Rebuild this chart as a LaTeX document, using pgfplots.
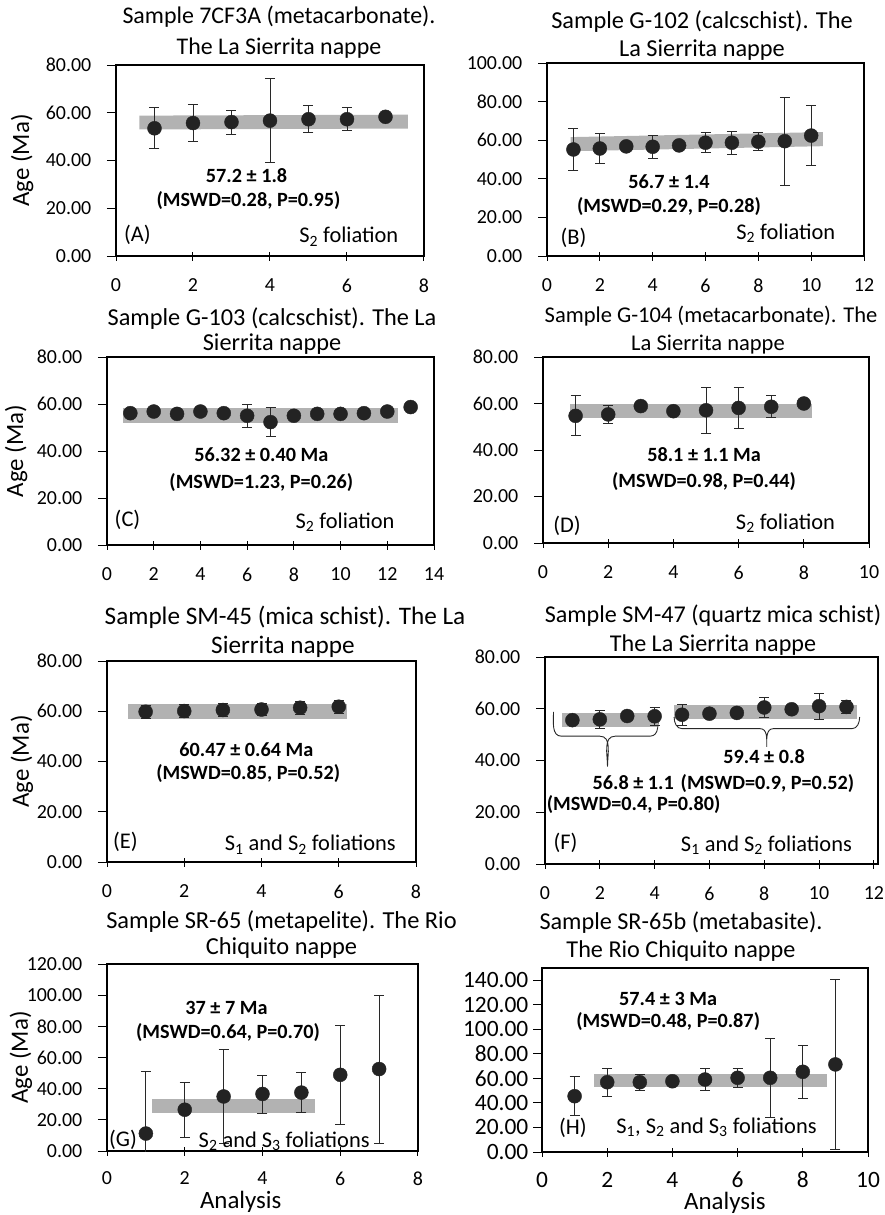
\documentclass[border=0pt]{standalone}
\usepackage{fontspec}
\setmainfont{Carlito}
\usepackage{pgfplots}
\pgfplotsset{compat=1.18}

\definecolor{markc}{RGB}{35,35,35}
\definecolor{bandc}{RGB}{178,178,178}
\definecolor{barc}{RGB}{40,40,40}

\newcommand{\tf}[1]{\fontsize{#1}{30}\selectfont}
\newcommand{\afont}{\fontsize{20.3}{24}\selectfont\bfseries}
\newcommand{\lfont}{\fontsize{22.5}{26}\selectfont}

\pgfplotsset{
  panel/.style={
    scale only axis,
    axis line style={line width=1.3bp, black},
    tick style={line width=1bp, black},
    tick align=center,
    tick pos=left,
    major tick length=9bp,
    ytick style={xshift=-4.5bp},
    tick label style={font=\fontsize{20}{24}\selectfont},
    /pgf/number format/assume math mode=true,
    yticklabel style={/pgf/number format/fixed, /pgf/number format/fixed zerofill, /pgf/number format/precision=2, anchor=east, inner sep=0pt, xshift=-20bp},
    xticklabel style={anchor=center, inner sep=0pt, yshift=-25bp},
    ymin=0, xmin=0,
    label style={font=\fontsize{25}{28}\selectfont},
  },
  pts/.style={only marks, mark=*, mark size=7bp, mark options={fill=markc, draw=markc},
    error bars/.cd, y dir=both, y explicit,
    error bar style={line width=0.9bp, barc},
    error mark options={rotate=90, mark size=5bp, line width=0.9bp, barc}},
  band/.style={fill=bandc, draw=none, mark=none},
}

\begin{document}
\begin{tikzpicture}
\useasboundingbox (0bp,0bp) rectangle (885bp,-1215bp);

% titles
\node[anchor=base, font=\tf{24}] at (279bp,-23.5bp) {Sample 7CF3A (metacarbonate).};
\node[anchor=base, font=\tf{24}] at (279bp,-54.3bp) {The La Sierrita nappe};
\node[anchor=base, font=\tf{24.4}] at (702bp,-28.5bp) {Sample G-102 (calcschist). The};
\node[anchor=base, font=\tf{24.4}] at (702bp,-56.7bp) {La Sierrita nappe};
\node[anchor=base, font=\tf{24.4}] at (272bp,-325bp) {Sample G-103 (calcschist). The La};
\node[anchor=base, font=\tf{24.4}] at (272bp,-350.7bp) {Sierrita nappe};
\node[anchor=base, font=\tf{22.6}] at (711bp,-322.7bp) {Sample G-104 (metacarbonate). The};
\node[anchor=base, font=\tf{22.6}] at (708bp,-350bp) {La Sierrita nappe};
\node[anchor=base, font=\tf{25.3}] at (285bp,-624.3bp) {Sample SM-45 (mica schist). The La};
\node[anchor=base, font=\tf{25.3}] at (283bp,-653.3bp) {Sierrita nappe};
\node[anchor=base, font=\tf{24.2}] at (713bp,-622.7bp) {Sample SM-47 (quartz mica schist)};
\node[anchor=base, font=\tf{24.2}] at (713bp,-651bp) {The La Sierrita nappe};
\node[anchor=base, font=\tf{24.5}] at (281.5bp,-928.3bp) {Sample SR-65 (metapelite). The Rio};
\node[anchor=base, font=\tf{24.5}] at (281.5bp,-954bp) {Chiquito nappe};
\node[anchor=base, font=\tf{24.3}] at (681bp,-929.3bp) {Sample SR-65b (metabasite).};
\node[anchor=base, font=\tf{24.3}] at (681bp,-957.3bp) {The Rio Chiquito nappe};

% (A)
\begin{axis}[panel, at={(116bp,-256bp)}, anchor=south west, width=308bp, height=191bp,
  xmax=8, ymax=80, xtick={0,2,...,8}, ytick={0,20,...,80},
  ylabel={Age (Ma)}, ylabel style={at={(axis description cs:-0.305,0.5)}, anchor=center}]
\addplot[band] coordinates {(0.61,53.0) (7.58,53.4) (7.58,59.2) (0.61,58.8)} --cycle;
\addplot[pts] table[x=x,y=y,y error=e] {
x y e
1 53.5 8.6
2 55.7 7.6
3 56.1 5.0
4 56.7 17.6
5 57.3 5.7
6 57.3 4.9
7 58.3 1.5
};
\node[font=\afont] at (axis description cs:0.424,0.419) {57.2 ± 1.8};
\node[font=\afont] at (axis description cs:0.430,0.293) {(MSWD=0.28, P=0.95)};
\node[font=\lfont, anchor=west, inner sep=0pt] at (axis description cs:0.026,0.110) {(A)};
\node[font=\lfont, anchor=east, inner sep=0pt] at (axis description cs:0.917,0.101) {S\textsubscript{2} foliation};
\end{axis}

% (B)
\begin{axis}[panel, at={(547bp,-256bp)}, anchor=south west, width=317bp, height=193bp,
  xmax=12, ymax=100, xtick={0,2,...,12}, ytick={0,20,...,100}]
\addplot[band] coordinates {(0.89,54.3) (10.44,56.9) (10.44,64.2) (0.89,61.6)} --cycle;
\addplot[pts] table[x=x,y=y,y error=e] {
x y e
1 55.2 10.8
2 55.7 7.6
3 56.8 2.0
4 56.6 6.1
5 57.3 2.0
6 58.7 5.2
7 58.7 5.9
8 59.2 4.6
9 59.5 22.7
10 62.4 15.4
};
\node[font=\afont] at (axis description cs:0.385,0.387) {56.7 ± 1.4};
\node[font=\afont] at (axis description cs:0.385,0.257) {(MSWD=0.29, P=0.28)};
\node[font=\lfont, anchor=west, inner sep=0pt] at (axis description cs:0.042,0.092) {(B)};
\node[font=\lfont, anchor=east, inner sep=0pt] at (axis description cs:0.910,0.118) {S\textsubscript{2} foliation};
\end{axis}

% (C)
\begin{axis}[panel, at={(107bp,-545bp)}, anchor=south west, width=327bp, height=188bp,
  xmax=14, ymax=80, xtick={0,2,...,14}, ytick={0,20,...,80},
  ylabel={Age (Ma)}, ylabel style={at={(axis description cs:-0.278,0.5)}, anchor=center}]
\addplot[band] coordinates {(0.67,51.8) (12.46,51.8) (12.46,58.2) (0.67,58.2)} --cycle;
\addplot[pts] table[x=x,y=y,y error=e] {
x y e
1 56.1 1.5
2 56.8 1.5
3 55.8 1.5
4 56.8 1.5
5 56.1 1.5
6 55.0 4.8
7 52.3 6.3
8 55.0 1.5
9 55.8 1.5
10 55.8 1.5
11 56.1 1.5
12 56.8 1.5
13 58.7 1.5
};
\node[font=\afont] at (axis description cs:0.472,0.478) {56.32 ± 0.40 Ma};
\node[font=\afont] at (axis description cs:0.472,0.331) {(MSWD=1.23, P=0.26)};
\node[font=\lfont, anchor=west, inner sep=0pt] at (axis description cs:0.023,0.133) {(C)};
\node[font=\lfont, anchor=east, inner sep=0pt] at (axis description cs:0.880,0.119) {S\textsubscript{2} foliation};
\end{axis}

% (D)
\begin{axis}[panel, at={(543bp,-543bp)}, anchor=south west, width=326bp, height=186bp,
  xmax=10, ymax=80, xtick={0,2,...,10}, ytick={0,20,...,80}]
\addplot[band] coordinates {(0.84,53.6) (8.26,53.6) (8.26,59.7) (0.84,59.7)} --cycle;
\addplot[pts] table[x=x,y=y,y error=e] {
x y e
1 54.7 8.6
2 55.3 3.9
3 58.9 1.5
4 56.7 1.5
5 57.1 10.0
6 58.1 9.0
7 58.6 4.7
8 60.0 1.5
};
\node[font=\afont] at (axis description cs:0.494,0.473) {58.1 ± 1.1 Ma};
\node[font=\afont] at (axis description cs:0.494,0.330) {(MSWD=0.98, P=0.44)};
\node[font=\lfont, anchor=west, inner sep=0pt] at (axis description cs:0.031,0.093) {(D)};
\node[font=\lfont, anchor=east, inner sep=0pt] at (axis description cs:0.896,0.104) {S\textsubscript{2} foliation};
\end{axis}

% (E)
\begin{axis}[panel, at={(107bp,-862bp)}, anchor=south west, width=309bp, height=201bp,
  xmax=8, ymax=80, xtick={0,2,...,8}, ytick={0,20,...,80},
  ylabel={Age (Ma)}, ylabel style={at={(axis description cs:-0.275,0.5)}, anchor=center}]
\addplot[band] coordinates {(0.55,57.1) (6.22,57.1) (6.22,63.0) (0.55,63.0)} --cycle;
\addplot[pts] table[x=x,y=y,y error=e] {
x y e
1 59.8 2.5
2 60.1 2.5
3 60.5 2.5
4 60.7 2.5
5 61.4 2.5
6 61.8 2.5
};
\node[font=\afont] at (axis description cs:0.451,0.558) {60.47 ± 0.64 Ma};
\node[font=\afont] at (axis description cs:0.457,0.442) {(MSWD=0.85, P=0.52)};
\node[font=\lfont, anchor=west, inner sep=0pt] at (axis description cs:0.019,0.098) {(E)};
\node[font=\lfont, anchor=east, inner sep=0pt] at (axis description cs:0.935,0.086) {S\textsubscript{1} and S\textsubscript{2} foliations};
\end{axis}

% (F)
\begin{axis}[panel, at={(545bp,-864bp)}, anchor=south west, width=333bp, height=207bp,
  xmax=12.15, ymax=80, xtick={0,2,...,12}, ytick={0,20,...,80}, clip=false]
\addplot[band] coordinates {(0.61,53.0) (4.08,53.0) (4.08,58.4) (0.61,58.4)} --cycle;
\addplot[band] coordinates {(4.72,56.2) (11.38,56.2) (11.38,61.5) (4.72,61.5)} --cycle;
\addplot[pts] table[x=x,y=y,y error=e] {
x y e
1 55.6 1.5
2 55.9 3.5
3 57.2 1.5
4 57.1 3.4
5 57.7 4.0
6 58.1 1.5
7 58.4 1.5
8 60.5 3.8
9 59.8 1.5
10 61.0 5.0
11 60.7 2.5
};
\draw[line width=0.9bp, barc] (axis cs:0.31,58.8) to[out=-90,in=180] (axis cs:0.6,49.4) -- (axis cs:2.0,49.4) to[out=0,in=90] (axis cs:2.28,37.6) to[out=90,in=180] (axis cs:2.56,49.4) -- (axis cs:3.83,49.4) to[out=0,in=-90] (axis cs:4.12,58.8);
\draw[line width=0.9bp, barc] (axis cs:4.71,56.8) to[out=-90,in=180] (axis cs:5.0,52.3) -- (axis cs:7.85,52.3) to[out=0,in=90] (axis cs:8.09,45.3) to[out=90,in=180] (axis cs:8.33,52.3) -- (axis cs:11.2,52.3) to[out=0,in=-90] (axis cs:11.48,56.8);
\node[font=\afont] at (axis description cs:0.658,0.518) {59.4 ± 0.8};
\node[font=\afont] at (axis description cs:0.668,0.389) {(MSWD=0.9, P=0.52)};
\node[font=\afont] at (axis description cs:0.265,0.392) {56.8 ± 1.1};
\node[font=\afont] at (axis description cs:0.266,0.285) {(MSWD=0.4, P=0.80)};
\node[font=\lfont, anchor=west, inner sep=0pt] at (axis description cs:0.025,0.103) {(F)};
\node[font=\lfont, anchor=east, inner sep=0pt] at (axis description cs:0.922,0.092) {S\textsubscript{1} and S\textsubscript{2} foliations};
\end{axis}

% (G)
\begin{axis}[panel, at={(107bp,-1151bp)}, anchor=south west, width=311bp, height=187bp,
  xmax=8, ymax=120, xtick={0,2,...,8}, ytick={0,20,...,120},
  xticklabel style={yshift=2bp},
  ylabel={Age (Ma)}, ylabel style={at={(axis description cs:-0.277,0.5)}, anchor=center},
  xlabel={Analysis}, xlabel style={at={(axis description cs:0.43,-0.307)}, anchor=base}]
\addplot[band] coordinates {(1.17,24.6) (5.34,24.6) (5.34,33.4) (1.17,33.4)} --cycle;
\addplot[pts] table[x=x,y=y,y error=e] {
x y e
1 11.2 40.0
2 26.5 17.5
3 35.0 30.0
4 36.6 12.2
5 37.5 13.0
6 48.9 31.7
7 52.6 47.5
};
\node[font=\afont] at (axis description cs:0.384,0.767) {37 ± 7 Ma};
\node[font=\afont] at (axis description cs:0.389,0.633) {(MSWD=0.64, P=0.70)};
\node[font=\lfont, anchor=west, inner sep=0pt] at (axis description cs:0.006,0.061) {(G)};
\node[font=\lfont, anchor=east, inner sep=0pt] at (axis description cs:0.845,0.054) {S\textsubscript{2} and S\textsubscript{3} foliations};
\end{axis}

% (H)
\begin{axis}[panel, at={(542bp,-1152bp)}, anchor=south west, width=326bp, height=184bp,
  xmax=10, ymax=150, xtick={0,2,...,10}, ytick={0,20,...,140},
  tick label style={font=\fontsize{23.5}{26}\selectfont},
  yticklabel style={xshift=11bp},
  xticklabel style={yshift=2bp},
  xlabel={Analysis}, xlabel style={at={(axis description cs:0.561,-0.310)}, anchor=base}]
\addplot[band] coordinates {(1.60,52.8) (8.75,52.8) (8.75,64.0) (1.60,64.0)} --cycle;
\addplot[pts] table[x=x,y=y,y error=e] {
x y e
1 45.5 16.0
2 56.9 11.5
3 56.9 6.5
4 57.7 2.0
5 59.1 9.0
6 60.5 8.0
7 60.5 32.0
8 65.4 21.4
9 71.4 69.0
};
\node[font=\afont] at (axis description cs:0.387,0.832) {57.4 ± 3 Ma};
\node[font=\afont] at (axis description cs:0.387,0.710) {(MSWD=0.48, P=0.87)};
\node[font=\lfont] at (axis description cs:0.095,0.130) {(H)};
\node[font=\lfont, anchor=east, inner sep=0pt] at (axis description cs:0.843,0.134) {S\textsubscript{1}, S\textsubscript{2} and S\textsubscript{3} foliations};
\end{axis}
\end{tikzpicture}
\end{document}
